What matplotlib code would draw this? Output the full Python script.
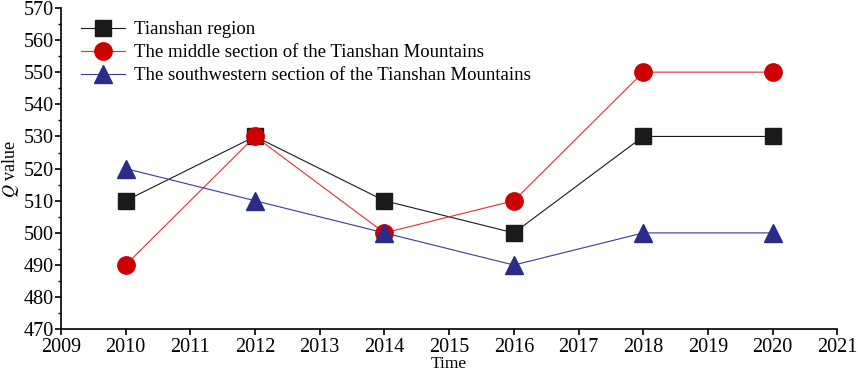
import matplotlib
matplotlib.use("Agg")
import matplotlib.pyplot as plt
from matplotlib.ticker import MultipleLocator

years = [2010, 2012, 2014, 2016, 2018, 2020]
tianshan = [510, 530, 510, 500, 530, 530]
middle = [490, 530, 500, 510, 550, 550]
southwest = [520, 510, 500, 490, 500, 500]
labels = ["Tianshan region",
          "The middle section of the Tianshan Mountains",
          "The southwestern section of the Tianshan Mountains"]

plt.rcParams['font.family'] = ['Liberation Serif', 'DejaVu Serif']
plt.rcParams['mathtext.fontset'] = 'stix'

fig = plt.figure(figsize=(8.58, 3.73), dpi=100)
ax = fig.add_axes([0.071, 0.117, 0.905, 0.862])

ax.plot(years, tianshan, color='#1a1a1a', lw=0.8, marker='s', ms=11, label=labels[0])
ax.plot(years, middle, color='#e03030', lw=0.8, marker='o', ms=12.5,
        markerfacecolor='#cc0000', markeredgecolor='#cc0000', label=labels[1])
ax.plot(years, southwest, color='#3a3a9a', lw=0.8, marker='^', ms=13,
        markerfacecolor='#2b2b8a', markeredgecolor='#2b2b8a', label=labels[2])

ax.set_xlim(2009, 2021)
ax.set_ylim(470, 570)
ax.xaxis.set_major_locator(MultipleLocator(1))
ax.yaxis.set_major_locator(MultipleLocator(10))
ax.yaxis.set_minor_locator(MultipleLocator(5))
ax.spines['top'].set_visible(False)
ax.spines['right'].set_visible(False)
ax.spines['left'].set_linewidth(1.2)
ax.spines['bottom'].set_linewidth(1.2)
ax.tick_params(axis='both', which='major', direction='out', length=4, width=1.2, labelsize=14.5, pad=1)
ax.tick_params(axis='x', which='major', pad=2)
ax.tick_params(axis='y', which='minor', direction='out', length=2.5, width=1)
ax.set_xlabel('Time', fontsize=12.5, labelpad=-0.5)
ax.set_ylabel(r'$Q$ value', fontsize=13)
ax.yaxis.set_label_coords(-0.052, 0.5)

ax.legend(loc='upper left', bbox_to_anchor=(0.009, 1.0), frameon=False, fontsize=13.5,
          handlelength=2.35, handletextpad=0.48, labelspacing=0.32, borderaxespad=0.3)

fig.savefig('out.png', dpi=100)
